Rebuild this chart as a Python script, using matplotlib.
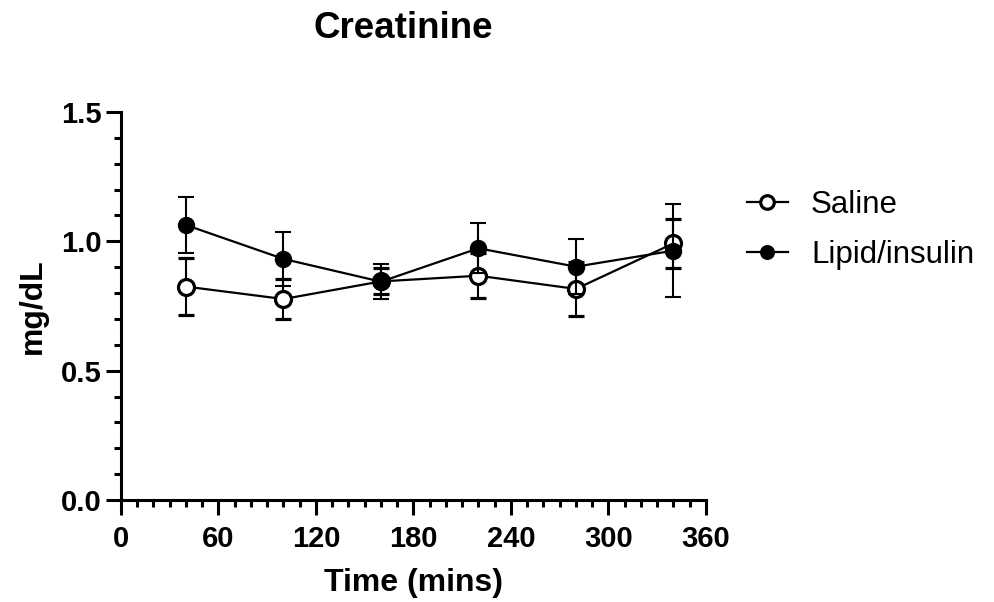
import numpy as np
import matplotlib
matplotlib.use("Agg")
import matplotlib.pyplot as plt
from matplotlib.ticker import MultipleLocator

plt.rcParams.update({
    "font.family": ["Liberation Sans", "DejaVu Sans"],
    "axes.linewidth": 2.2,
})

time_min = [40, 100, 160, 220, 280, 340]
saline = [0.825, 0.777, 0.845, 0.867, 0.816, 0.992]
saline_sem = [0.11, 0.078, 0.05, 0.087, 0.104, 0.095]
lipid = [1.063, 0.932, 0.844, 0.973, 0.902, 0.964]
lipid_sem = [0.11, 0.105, 0.067, 0.097, 0.106, 0.18]

fig = plt.figure(figsize=(9.94, 6.02), dpi=100)
ax = fig.add_axes([0.1217, 0.1694, 0.5885, 0.6446])

eb_s = ax.errorbar(time_min, saline, yerr=saline_sem, color="black", lw=1.6,
                   elinewidth=1.5, capsize=6, capthick=1.5, marker="o", ms=11.5,
                   mfc="white", mec="black", mew=2.3, zorder=3)
eb_l = ax.errorbar(time_min, lipid, yerr=lipid_sem, color="black", lw=1.6,
                   elinewidth=1.5, capsize=6, capthick=1.5, marker="o", ms=11.5,
                   mfc="black", mec="black", zorder=4)

ax.set_xlim(0, 360)
ax.set_ylim(0, 1.5)
ax.xaxis.set_major_locator(MultipleLocator(60))
ax.xaxis.set_minor_locator(MultipleLocator(10))
ax.yaxis.set_major_locator(MultipleLocator(0.5))
ax.yaxis.set_minor_locator(MultipleLocator(0.1))
ax.yaxis.set_major_formatter(matplotlib.ticker.FormatStrFormatter("%.1f"))
ax.spines["top"].set_visible(False)
ax.spines["right"].set_visible(False)
ax.tick_params(which="major", length=11, width=2.2, labelsize=21)
ax.tick_params(which="minor", length=5, width=2.2)
ax.tick_params(axis="x", pad=7)
ax.tick_params(axis="y", pad=3)
for lab in ax.get_xticklabels() + ax.get_yticklabels():
    lab.set_fontweight("bold")

ax.set_xlabel("Time (mins)", fontsize=23, fontweight="bold", labelpad=11)
ax.set_ylabel("mg/dL", fontsize=23, fontweight="bold", labelpad=9)
fig.text(403 / 994, 1 - 28 / 602, "Creatinine", fontsize=26.5, fontweight="bold",
         ha="center", va="center")

ax.legend([eb_s[0], eb_l[0]], ["Saline", "Lipid/insulin"],
          loc="center left", bbox_to_anchor=(0.7515, 0.618),
          bbox_transform=fig.transFigure, frameon=False, fontsize=22.5,
          handlelength=1.3, handletextpad=0.75, labelspacing=0.65,
          borderpad=0, borderaxespad=0, markerscale=0.85)

fig.savefig("out.png", dpi=100)
